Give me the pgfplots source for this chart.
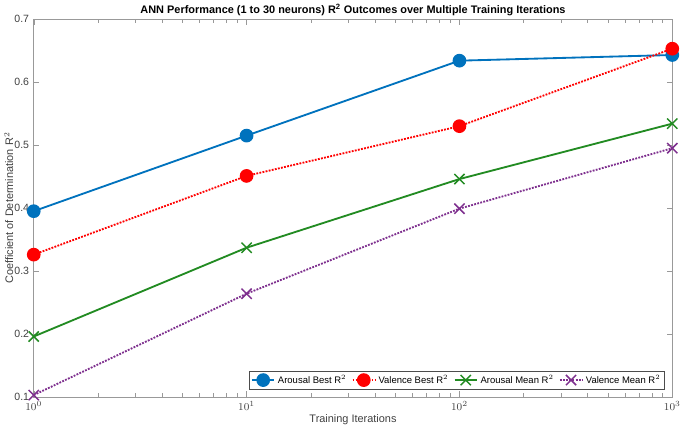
\documentclass[border=0pt]{standalone}
\usepackage{pgfplots}
\pgfplotsset{compat=1.18}
\usepackage{fontspec}
\setmainfont{Liberation Sans}
\definecolor{mblue}{rgb}{0,0.447,0.741}
\definecolor{mgreen}{rgb}{0.133,0.545,0.133}
\definecolor{mpurple}{rgb}{0.494,0.184,0.556}
\begin{document}
\begin{tikzpicture}
\begin{axis}[
  scale only axis,
  width=485pt, height=287pt,
  xmode=log, log basis x=10,
  xmin=1, xmax=1000, ymin=0.1, ymax=0.7,
  ytick={0.1,0.2,...,0.7},
  yticklabel style={/pgf/number format/fixed,/pgf/number format/precision=1},
  tick align=inside,
  axis line style={gray!80},
  tick style={gray!80},
  every tick label/.append style={font=\fontsize{8}{9}\selectfont, text=black!75},
  /pgf/number format/assume math mode=true,
  title={\textbf{ANN Performance (1 to 30 neurons) R$^{\mathbf 2}$ Outcomes over Multiple Training Iterations}},
  title style={font=\fontsize{8.3}{9}\selectfont, yshift=-7pt},
  xlabel={Training Iterations},
  ylabel={Coefficient of Determination R$^2$},
  label style={font=\fontsize{8.3}{9}\selectfont, text=black!75},
  xlabel style={yshift=4pt},
  ylabel style={yshift=-6pt},
  legend columns=4,
  legend style={at={(0.988,0.02)}, anchor=south east, font=\fontsize{7.2}{8}\selectfont, draw=black!70, inner sep=1pt, /tikz/every even column/.append style={column sep=2pt}},
  legend cell align=left,
]
\addplot[mblue, line width=1.4pt, mark=*, mark size=4.5pt] coordinates {(1,0.395) (10,0.515) (100,0.634) (1000,0.643)};
\addlegendentry{Arousal Best R$^2$}
\addplot[red, line width=1.4pt, densely dotted, mark=*, mark size=4.5pt, mark options={solid}] coordinates {(1,0.326) (10,0.451) (100,0.530) (1000,0.653)};
\addlegendentry{Valence Best R$^2$}
\addplot[mgreen, line width=1.4pt, mark=x, mark size=5.5pt, mark options={line width=1.1pt}] coordinates {(1,0.196) (10,0.337) (100,0.446) (1000,0.534)};
\addlegendentry{Arousal Mean R$^2$}
\addplot[mpurple, line width=1.4pt, densely dotted, mark=x, mark size=5.5pt, mark options={solid, line width=1.1pt}] coordinates {(1,0.103) (10,0.264) (100,0.399) (1000,0.495)};
\addlegendentry{Valence Mean R$^2$}
\end{axis}
\end{tikzpicture}
\end{document}
